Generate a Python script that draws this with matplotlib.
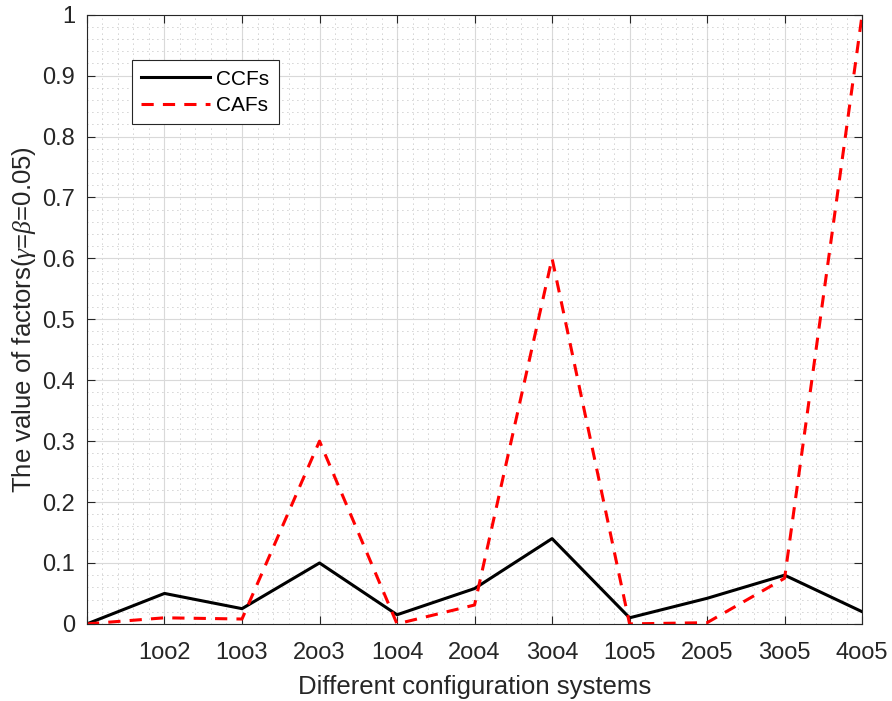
import numpy as np
import matplotlib.pyplot as plt
from matplotlib.ticker import MultipleLocator

plt.rcParams['font.family'] = ['Liberation Sans', 'DejaVu Sans']
plt.rcParams['mathtext.fontset'] = 'custom'
plt.rcParams['mathtext.it'] = 'Liberation Serif:italic'

systems = ['', '1oo2', '1oo3', '2oo3', '1oo4', '2oo4', '3oo4', '1oo5', '2oo5', '3oo5', '4oo5']
ccfs = [0.0, 0.05, 0.025, 0.1, 0.015, 0.058, 0.14, 0.01, 0.042, 0.08, 0.02]
cafs = [0.0, 0.01, 0.008, 0.3, 0.0, 0.031, 0.6, 0.0, 0.002, 0.075, 1.0]

fig = plt.figure(figsize=(8.92, 7.01), dpi=100)
ax = fig.add_axes([0.0975, 0.11, 0.869, 0.869])

x = np.arange(len(systems))
ax.plot(x, ccfs, color='black', linewidth=2.2, label='CCFs')
ax.plot(x, cafs, color='red', linewidth=2.2, linestyle=(0, (4, 3)), label='CAFs')

ax.set_xlim(0, 10)
ax.set_ylim(0, 1)
ax.set_xticks(x)
ax.set_xticklabels(systems)
ax.set_yticks(np.arange(0, 1.01, 0.1))
ax.set_yticklabels(['0', '0.1', '0.2', '0.3', '0.4', '0.5', '0.6', '0.7', '0.8', '0.9', '1'])
ax.xaxis.set_minor_locator(MultipleLocator(0.2))
ax.yaxis.set_minor_locator(MultipleLocator(0.02))

ax.grid(True, which='major', color='#d9d9d9', linewidth=0.8)
ax.grid(True, which='minor', color='#a6a6a6', linestyle=(0, (1, 5)), linewidth=0.6)
ax.set_axisbelow(True)

ax.tick_params(which='both', direction='in', top=True, right=True, labelsize=17, colors='#262626')
ax.tick_params(which='minor', length=0)
ax.tick_params(which='major', length=6)
ax.tick_params(axis='x', which='major', pad=13)
ax.tick_params(axis='y', which='major', pad=8.5)
for s in ax.spines.values():
    s.set_color('#262626')
    s.set_linewidth(0.8)

ax.set_xlabel('Different configuration systems', fontsize=18.5, color='#262626', labelpad=8)
ax.set_ylabel(r'The value of factors($\gamma$=$\beta$=0.05)', fontsize=18.5, color='#262626', labelpad=3)

leg = ax.legend(loc='upper left', bbox_to_anchor=(0.058, 0.925), fontsize=15,
                fancybox=False, framealpha=1, edgecolor='#262626', borderpad=0.45,
                handlelength=3.3, handletextpad=0.3, labelspacing=0.35, borderaxespad=0)
leg.get_frame().set_linewidth(0.8)

fig.savefig('out.png', dpi=100)
